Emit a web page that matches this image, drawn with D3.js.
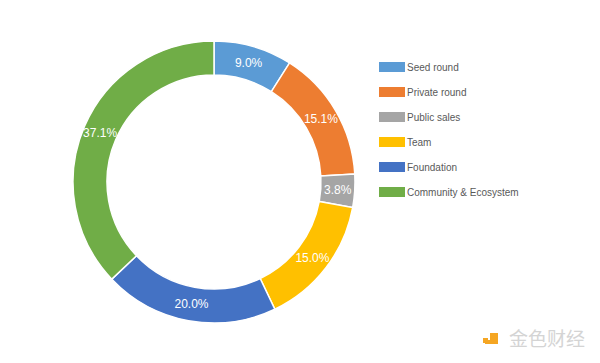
<!DOCTYPE html>
<html>
<head>
<meta charset="utf-8">
<script src="https://cdn.jsdelivr.net/npm/d3@7"></script>
<style>
  body { margin: 0; background: #fff; }
  svg { font-family: "Liberation Sans", Arial, sans-serif; }
</style>
</head>
<body>
<svg id="chart" width="600" height="363"></svg>
<script>
var categories = ["Seed round", "Private round", "Public sales", "Team", "Foundation", "Community & Ecosystem"];
var shares = [9.0, 15.1, 3.8, 15.0, 20.0, 37.1];
var colors = ["#5B9BD5", "#ED7D31", "#A5A5A5", "#FFC000", "#4472C4", "#70AD47"];

var svg = d3.select("#chart");
var cx = 214, cy = 182, outerR = 141, innerR = 107;

var pie = d3.pie().sort(null).value(function(d) { return d; });
var arc = d3.arc().innerRadius(innerR).outerRadius(outerR);
var labelArc = d3.arc().innerRadius(124).outerRadius(124);

var g = svg.append("g").attr("transform", "translate(" + cx + "," + cy + ")");
var arcs = pie(shares);

g.selectAll("path")
  .data(arcs)
  .enter().append("path")
  .attr("d", arc)
  .attr("fill", function(d, i) { return colors[i]; })
  .attr("stroke", "#fff")
  .attr("stroke-width", 1.5);

g.selectAll("text.lbl")
  .data(arcs)
  .enter().append("text")
  .attr("class", "lbl")
  .attr("transform", function(d) { return "translate(" + labelArc.centroid(d) + ")"; })
  .attr("text-anchor", "middle")
  .attr("dy", "0.35em")
  .attr("fill", "#fff")
  .style("font-size", "12px")
  .text(function(d) { return d.data.toFixed(1) + "%"; });

// legend
var legend = svg.append("g").attr("transform", "translate(379,67)");
var item = legend.selectAll("g")
  .data(categories)
  .enter().append("g")
  .attr("transform", function(d, i) { return "translate(0," + (i * 25) + ")"; });
item.append("rect")
  .attr("x", 0).attr("y", -5)
  .attr("width", 26).attr("height", 10)
  .attr("fill", function(d, i) { return colors[i]; });
item.append("text")
  .attr("x", 28).attr("dy", "0.35em")
  .attr("fill", "#595959")
  .style("font-size", "10px")
  .text(function(d) { return d; });

// watermark
var wm = svg.append("g").attr("transform", "translate(483,333)");
wm.append("rect").attr("x", 0).attr("y", 5).attr("width", 5).attr("height", 5).attr("fill", "#F5A623");
wm.append("path").attr("d", "M7,0 H15 V11 H2 V7 H7 Z").attr("fill", "#F5A623");
svg.append("text")
  .attr("x", 509).attr("y", 346)
  .attr("fill", "#d4d4d4")
  .style("font-family", "'Noto Sans CJK SC', sans-serif")
  .style("font-size", "19px")
  .text("金色财经");
</script>
</body>
</html>
